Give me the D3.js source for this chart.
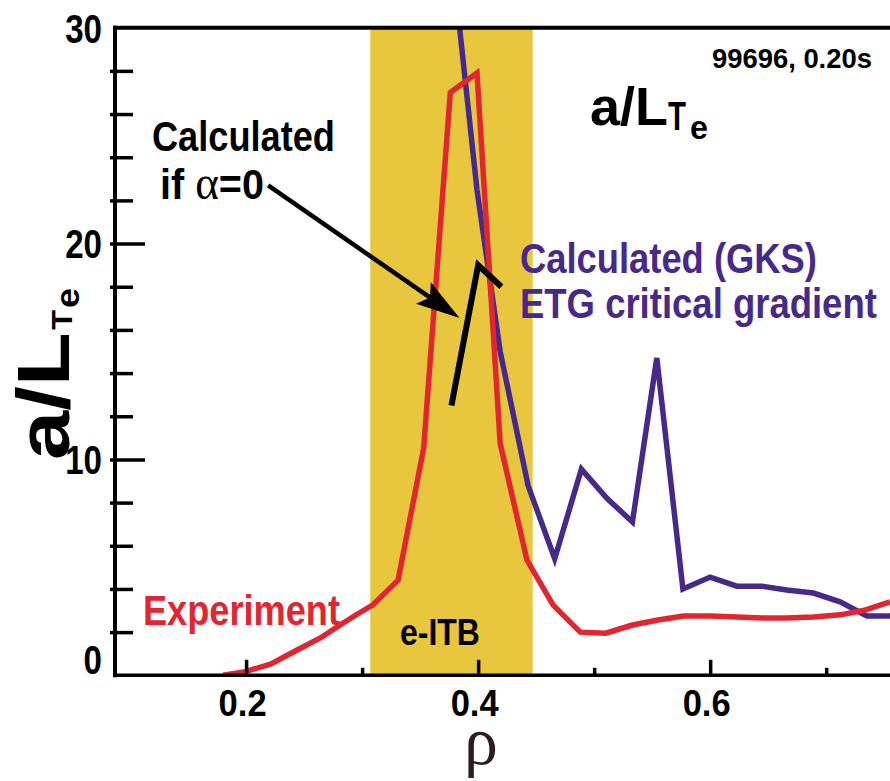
<!DOCTYPE html>
<html>
<head>
<meta charset="utf-8">
<script src="https://cdn.jsdelivr.net/npm/d3@7"></script>
<style>
  html, body { margin: 0; padding: 0; background: #fff; }
  svg { display: block; }
</style>
</head>
<body>
<div id="chart"></div>
<script>
// -------- DATA --------
// rho, a/L_Te
const experiment = [
  [0.180, 0.0], [0.198, 0.15], [0.221, 0.52], [0.244, 1.17], [0.264, 1.73],
  [0.281, 2.33], [0.296, 2.84], [0.309, 3.25], [0.331, 4.41], [0.353, 10.5],
  [0.376, 27.0], [0.399, 27.9], [0.419, 10.75], [0.442, 5.35], [0.4645, 3.26],
  [0.488, 2.0], [0.510, 1.95], [0.533, 2.33], [0.555, 2.56], [0.577, 2.75],
  [0.600, 2.75], [0.623, 2.7], [0.645, 2.65], [0.666, 2.65], [0.689, 2.7],
  [0.712, 2.8], [0.732, 3.0], [0.755, 3.4]
];
const gksCritical = [
  [0.376, 34.0], [0.399, 22.5], [0.419, 15.0], [0.443, 8.8], [0.466, 5.4],
  [0.489, 9.55], [0.511, 8.2], [0.533, 7.1], [0.554, 14.7], [0.5765, 4.0],
  [0.600, 4.55], [0.623, 4.13], [0.6445, 4.13], [0.666, 3.95], [0.689, 3.81],
  [0.712, 3.4], [0.735, 2.75], [0.755, 2.75]
];
const alphaZero = [[0.377, 12.5], [0.400, 19.0], [0.420, 18.0]];
const arrowPts = [[0.219, 22.7], [0.384, 16.55]];
const eitbBand = [0.307, 0.447];

const yTickLabels = [0, 10, 20, 30];
const yMajorTicks = [10, 20];
const yMinorTicks = [2, 4, 6, 8, 12, 14, 16, 18, 22, 24, 26, 28];
const xTickLabels = [0.2, 0.4, 0.6];
const xMinorTicks = [0.3, 0.5, 0.7];

// -------- LAYOUT --------
const width = 890, height = 781;
const plotL = 115, plotR = 890, plotT = 27.7, plotB = 675.3;
const sans = "'Liberation Sans Narrow','Arial Narrow','Liberation Sans',Arial,sans-serif";
const serif = "'Liberation Serif','Times New Roman',serif";
const red = "#e1262f", purple = "#46298a", gold = "#e8c73f";

const svg = d3.select("#chart").append("svg")
  .attr("width", width).attr("height", height);

const x = d3.scaleLinear().domain([0.087, 0.755]).range([plotL, plotR]);
const y = d3.scaleLinear().domain([0, 30]).range([plotB, plotT]);

svg.append("clipPath").attr("id", "plot")
  .append("rect").attr("x", plotL).attr("y", plotT).attr("width", plotR - plotL).attr("height", plotB - plotT);

// e-ITB band
svg.append("rect")
  .attr("x", x(eitbBand[0]))
  .attr("width", x(eitbBand[1]) - x(eitbBand[0]))
  .attr("y", plotT).attr("height", plotB - plotT)
  .attr("fill", gold);

// -------- LINES --------
const line = d3.line().x(d => x(d[0])).y(d => y(d[1]));
const lines = svg.append("g").attr("clip-path", "url(#plot)");

lines.append("path").datum(gksCritical)
  .attr("d", line).attr("fill", "none")
  .attr("stroke", purple).attr("stroke-width", 5.5).attr("stroke-linejoin", "miter");

lines.append("path").datum(experiment)
  .attr("d", line).attr("fill", "none")
  .attr("stroke", red).attr("stroke-width", 5.5).attr("stroke-linejoin", "miter");

lines.append("path").datum(alphaZero)
  .attr("d", line).attr("fill", "none")
  .attr("stroke", "#000").attr("stroke-width", 6).attr("stroke-linejoin", "miter");

// arrow
const [a0, a1] = arrowPts.map(d => [x(d[0]), y(d[1])]);
const adx = a1[0] - a0[0], ady = a1[1] - a0[1], alen = Math.hypot(adx, ady);
const ux = adx / alen, uy = ady / alen;
const headLen = 44, headW = 13;
const bx = a1[0] - ux * headLen, by = a1[1] - uy * headLen;
svg.append("line")
  .attr("x1", a0[0]).attr("y1", a0[1])
  .attr("x2", bx + ux * 10).attr("y2", by + uy * 10)
  .attr("stroke", "#000").attr("stroke-width", 4.5);
svg.append("path")
  .attr("d", `M${a1[0]},${a1[1]} L${bx - uy * headW},${by + ux * headW} L${bx + ux * 8},${by + uy * 8} L${bx + uy * headW},${by - ux * headW} Z`)
  .attr("fill", "#000");

// -------- AXES --------
const axisStroke = 3.5;
svg.append("line").attr("x1", plotL).attr("x2", plotL).attr("y1", plotT - 2).attr("y2", plotB + 2)
  .attr("stroke", "#000").attr("stroke-width", 4);
svg.append("line").attr("x1", plotL - 2).attr("x2", plotR).attr("y1", plotT).attr("y2", plotT)
  .attr("stroke", "#000").attr("stroke-width", 4);
svg.append("line").attr("x1", plotL - 2).attr("x2", plotR).attr("y1", plotB).attr("y2", plotB)
  .attr("stroke", "#000").attr("stroke-width", 3.5);

function styleTicks(g) {
  g.select(".domain").remove();
  g.selectAll(".tick line").attr("stroke", "#000").attr("stroke-width", axisStroke);
}

svg.append("g").attr("transform", `translate(${plotL - 5},0)`)
  .call(d3.axisRight(y).tickValues(yMinorTicks).tickSize(23).tickFormat(""))
  .call(styleTicks);
svg.append("g").attr("transform", `translate(${plotL - 5},0)`)
  .call(d3.axisRight(y).tickValues(yMajorTicks).tickSize(35).tickFormat(""))
  .call(styleTicks);

const yLab = svg.append("g").attr("transform", `translate(${plotL},0)`)
  .call(d3.axisLeft(y).tickValues(yTickLabels).tickSize(0).tickPadding(13).tickFormat(d3.format("d")))
  .call(styleTicks);
yLab.selectAll(".tick text")
  .attr("font-family", sans).attr("font-weight", "bold").attr("font-size", 40)
  .attr("fill", "#000")
  .attr("dy", d => d === 0 ? "-0.05em" : "0.36em")
  .attr("textLength", d => String(d).length * 18.4)
  .attr("lengthAdjust", "spacingAndGlyphs");

svg.append("g").attr("transform", `translate(0,${plotB + 1.5})`)
  .call(d3.axisTop(x).tickValues(xTickLabels).tickSize(17).tickFormat(""))
  .call(styleTicks);
svg.append("g").attr("transform", `translate(0,${plotB + 1.5})`)
  .call(d3.axisTop(x).tickValues(xMinorTicks).tickSize(9).tickFormat(""))
  .call(styleTicks);

const xLab = svg.append("g").attr("transform", `translate(-4,${plotB})`)
  .call(d3.axisBottom(x).tickValues(xTickLabels).tickSize(0).tickPadding(14).tickFormat(d3.format(".1f")))
  .call(styleTicks);
xLab.selectAll(".tick text")
  .attr("font-family", sans).attr("font-weight", "bold").attr("font-size", 37)
  .attr("fill", "#000")
  .attr("textLength", 48).attr("lengthAdjust", "spacingAndGlyphs");

// rho axis title
svg.append("text")
  .attr("x", 481).attr("y", 764)
  .attr("text-anchor", "middle")
  .attr("font-family", serif)
  .attr("font-size", 68).attr("fill", "#2b1d23")
  .text("ρ");

// -------- TEXT HELPER --------
// draws text then squeezes it horizontally to the width measured on the figure
function label(parent, txt, px, py, size, color, w) {
  const g = parent.append("g");
  const t = g.append("text")
    .attr("font-family", sans).attr("font-weight", "bold")
    .attr("font-size", size).attr("fill", color)
    .text(txt);
  const natural = t.node().getComputedTextLength();
  const sx = w ? w / natural : 1;
  g.attr("transform", `translate(${px},${py}) scale(${sx},1)`);
  return t;
}

// y axis title a/L_Te
const yt = svg.append("g").attr("transform", "translate(69,460) rotate(-90)");
label(yt, "a/L", 0, 0, 74, "#000", 128);
label(yt, "T", 130, 3, 30, "#000", 20);
label(yt, "e", 152, 10, 34, "#000", 20);

// top-right title
label(svg, "a/L", 590, 125, 53, "#000", 78);
label(svg, "T", 668, 130, 40, "#000", 18);
label(svg, "e", 690, 139, 34, "#000", 18);
label(svg, "99696, 0.20s", 712, 68, 27, "#000", 160);

label(svg, "Calculated", 152, 151, 42, "#000", 183);

// "if α=0" with a serif alpha
const ifg = svg.append("g");
const ifa = ifg.append("text")
  .attr("font-family", sans).attr("font-weight", "bold")
  .attr("font-size", 42).attr("fill", "#000");
ifa.append("tspan").text("if ");
ifa.append("tspan").attr("font-family", serif)
  .attr("font-weight", "normal").attr("font-size", 48).text("α");
ifa.append("tspan").text("=0");
ifg.attr("transform", `translate(160,199) scale(${104 / ifa.node().getComputedTextLength()},1)`);

label(svg, "Calculated (GKS)", 520, 273, 42, purple, 297);
label(svg, "ETG critical gradient", 520, 318, 42, purple, 357);
label(svg, "Experiment", 143, 625, 42, red, 197);
label(svg, "e-ITB", 400, 645, 37, "#000", 80);
</script>
</body>
</html>
